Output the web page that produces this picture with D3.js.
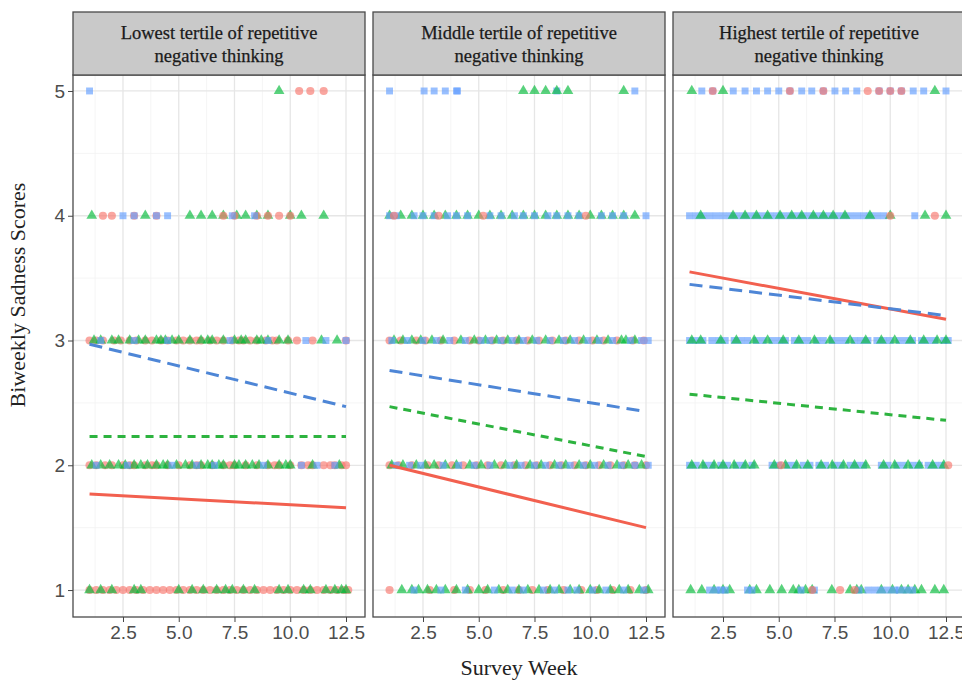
<!DOCTYPE html>
<html>
<head>
<meta charset="utf-8">
<script src="https://cdn.jsdelivr.net/npm/d3@7"></script>
<style>
  body { margin: 0; background: #fff; }
  svg { display: block; }
</style>
</head>
<body>
<svg width="962" height="681"></svg>
<script>
const width = 962;
const height = 681;

// facet titles
const panelTitles = [
  ["Lowest tertile of repetitive", "negative thinking"],
  ["Middle tertile of repetitive", "negative thinking"],
  ["Highest tertile of repetitive", "negative thinking"]
];

const xTicks = [2.5, 5, 7.5, 10, 12.5];
const xMinor = [1.25, 3.75, 6.25, 8.75, 11.25];
const yTicks = [1, 2, 3, 4, 5];
const yMinor = [1.5, 2.5, 3.5, 4.5];

// fitted lines: [score at week 1, score at week 12.5] for class 1, 2, 3
const trendWeeks = [1, 12.5];
const trendLowest = [[1.77, 1.66], [2.23, 2.23], [2.97, 2.47]];
const trendMiddle = [[2.0, 1.5], [2.47, 2.07], [2.76, 2.43]];
const trendHighest = [[3.55, 3.17], [2.57, 2.36], [3.45, 3.2]];

// raw points: [score, class (0,1,2), weeks]
const lowestPoints = [
  [5, 2, [1.0]],
  [5, 1, [9.5]],
  [5, 0, [10.4, 10.9, 11.5]],
  [4, 1, [1.1, 3.5, 5.5, 6.0, 6.5, 7.0, 7.6, 8.0, 8.5, 9.0, 10.0, 10.5, 11.5]],
  [4, 0, [1.6, 2.0, 3.0, 4.0, 7.0, 7.5, 8.5, 9.0, 9.5, 10.0]],
  [4, 2, [2.5, 3.0, 4.0, 4.5, 7.4, 8.4]],
  [3, 0, [1.0, 1.3, 1.6, 2.1, 2.4, 2.8, 3.1, 3.5, 3.8, 4.2, 4.5, 4.9, 5.2, 5.5, 5.8, 6.0, 6.4, 6.7, 7.0, 7.4, 7.7, 7.9, 8.2, 8.5, 8.9, 9.2, 9.4, 9.9, 10.3, 11.0, 12.5]],
  [3, 1, [1.2, 1.5, 2.0, 2.3, 2.8, 3.2, 3.5, 4.0, 4.2, 4.4, 4.7, 5.0, 5.5, 6.0, 6.3, 6.5, 7.0, 7.5, 7.8, 8.0, 8.5, 8.7, 9.0, 9.5, 9.9, 11.4, 12.1]],
  [3, 2, [1.5, 3.0, 4.5, 7.3, 9.0, 10.7, 11.6, 12.5]],
  [2, 0, [1.0, 1.3, 1.7, 2.0, 2.5, 2.8, 3.0, 3.5, 3.8, 4.0, 4.5, 5.0, 5.5, 5.8, 6.0, 6.5, 7.0, 7.3, 7.5, 8.0, 8.5, 9.0, 9.3, 9.5, 10.0, 10.5, 10.8, 11.0, 11.5, 11.8, 12.0, 12.3, 12.5]],
  [2, 1, [1.1, 1.5, 1.9, 2.3, 2.6, 3.0, 3.3, 3.6, 4.0, 4.3, 4.5, 4.9, 5.3, 5.6, 6.0, 6.3, 6.5, 6.8, 7.0, 7.5, 7.7, 8.0, 8.3, 8.6, 9.0, 9.5, 9.8, 10.0, 11.0, 12.2]],
  [2, 2, [1.3, 2.7, 4.7, 5.8, 6.6, 8.8, 10.5, 11.2, 12.0]],
  [1, 0, [1.0, 1.3, 1.6, 1.9, 2.2, 2.5, 2.8, 3.1, 3.4, 3.7, 4.0, 4.3, 4.6, 4.9, 5.2, 5.5, 5.8, 6.1, 6.4, 6.7, 7.0, 7.3, 7.6, 7.9, 8.2, 8.5, 8.8, 9.1, 9.4, 9.7, 10.0, 10.3, 10.6, 10.9, 11.2, 11.5, 11.8, 12.1, 12.4, 12.6]],
  [1, 1, [1.0, 1.5, 2.0, 3.0, 3.3, 5.0, 5.6, 6.1, 6.7, 7.1, 7.4, 7.9, 8.4, 9.5, 9.9, 10.6, 10.9, 11.6, 12.0, 12.3, 12.5]]
];

const middlePoints = [
  [5, 2, [1.0, 2.55, 3.0, 3.5, 4.0, 4.05, 8.5, 12.0]],
  [5, 1, [7.0, 7.5, 8.0, 8.5, 9.0, 11.5]],
  [4, 1, [1.0, 1.5, 2.0, 2.5, 3.0, 3.5, 4.0, 4.5, 5.0, 5.5, 6.0, 6.5, 7.0, 7.5, 8.0, 8.5, 9.0, 9.5, 10.0, 10.5, 11.0, 11.5, 12.0]],
  [4, 2, [1.0, 1.3, 2.1, 2.5, 3.0, 3.6, 4.0, 4.5, 5.5, 6.0, 6.6, 7.0, 7.5, 8.1, 8.5, 9.0, 9.5, 10.5, 11.0, 11.5, 12.5]],
  [4, 0, [1.2, 3.2, 5.2, 9.8]],
  [3, 0, [1.0, 1.5, 2.2, 2.6, 3.3, 3.9, 4.6, 5.0, 5.6, 6.1, 6.7, 7.2, 7.7, 8.3, 8.9, 9.5, 10.1, 10.6, 11.2, 11.9, 12.4]],
  [3, 1, [1.2, 1.6, 2.0, 2.4, 2.9, 3.4, 4.2, 4.8, 5.3, 5.8, 6.3, 6.8, 7.4, 8.0, 8.6, 9.1, 9.7, 10.3, 10.8, 11.4, 11.6, 12.0]],
  [3, 2, [1.1, 1.8, 2.5, 3.1, 3.7, 4.4, 5.1, 5.5, 6.0, 6.5, 7.0, 7.6, 8.2, 8.8, 9.3, 9.9, 10.4, 11.0, 11.8, 12.3, 12.6]],
  [2, 0, [1.0, 1.4, 2.0, 2.7, 3.2, 3.8, 4.3, 4.9, 5.4, 6.0, 6.6, 7.1, 7.6, 8.2, 8.7, 9.3, 9.8, 10.4, 10.9, 11.5, 12.0, 12.5]],
  [2, 1, [1.1, 1.6, 2.2, 2.6, 3.0, 3.5, 4.0, 4.6, 5.1, 5.7, 6.2, 6.7, 7.3, 7.8, 8.4, 8.9, 9.5, 10.0, 10.6, 11.2, 11.7, 12.3]],
  [2, 2, [1.3, 1.9, 2.4, 3.4, 4.1, 4.8, 5.5, 6.4, 6.9, 7.5, 8.0, 8.6, 9.1, 9.7, 10.2, 10.8, 11.4, 12.0, 12.6]],
  [1, 0, [1.0, 2.8, 3.9, 4.6, 5.3, 6.1, 6.8, 7.4, 8.1, 8.8, 9.6, 10.3, 11.0, 11.8, 12.5]],
  [1, 1, [1.55, 2.0, 2.3, 2.7, 3.1, 3.5, 4.0, 4.5, 5.0, 5.4, 5.9, 6.3, 6.8, 7.2, 7.7, 8.2, 8.6, 9.1, 9.5, 10.0, 10.4, 10.9, 11.3, 11.7, 12.2, 12.6]],
  [1, 2, [2.1, 3.3, 4.4, 5.7, 6.5, 7.0, 7.9, 8.4, 9.0, 9.4, 10.1, 10.7, 11.5, 12.4]]
];

const highestPoints = [
  [5, 1, [1.1, 2.5, 12.0]],
  [5, 2, [1.55, 2.04, 2.96, 3.49, 4.0, 4.5, 5.0, 5.5, 6.03, 6.48, 7.0, 7.52, 8.0, 8.5, 9.5, 10.0, 10.5, 11.03, 11.5, 12.5]],
  [5, 0, [2.04, 5.5, 7.0, 8.99, 9.5, 10.0, 10.5]],
  [4, 2, [1.0, 1.3, 1.6, 1.9, 2.2, 2.5, 2.8, 3.1, 3.4, 3.7, 4.0, 4.3, 4.6, 4.9, 5.2, 5.5, 5.8, 6.1, 6.4, 6.7, 7.0, 7.3, 7.6, 7.9, 8.2, 8.5, 8.8, 9.1, 9.4, 9.7, 11.1]],
  [4, 1, [1.5, 2.95, 3.49, 4.0, 4.5, 5.06, 5.58, 6.03, 6.55, 7.0, 7.44, 7.97, 9.09, 10.0, 11.56, 12.5]],
  [4, 0, [10.0, 12.0]],
  [3, 2, [1.0, 1.3, 1.6, 2.0, 2.3, 2.6, 3.0, 3.3, 3.6, 4.0, 4.3, 4.7, 5.0, 5.3, 5.7, 6.0, 6.3, 6.7, 7.0, 7.4, 7.7, 8.0, 8.4, 8.7, 9.0, 9.4, 9.7, 10.0, 10.4, 10.7, 11.0, 11.4, 11.7, 12.0, 12.4, 12.6]],
  [3, 1, [1.1, 1.5, 2.4, 3.1, 3.9, 4.5, 5.2, 5.9, 6.6, 7.3, 8.2, 8.9, 9.6, 10.2, 10.9, 11.5, 12.1, 12.5]],
  [2, 2, [1.0, 1.3, 1.7, 2.0, 2.4, 2.7, 3.1, 3.4, 3.8, 4.7, 5.0, 5.4, 5.7, 6.1, 6.4, 6.8, 7.1, 7.5, 7.8, 8.2, 8.5, 8.8, 9.6, 9.9, 10.3, 10.6, 11.0, 11.3, 11.7, 12.0, 12.3]],
  [2, 1, [1.1, 1.6, 2.1, 2.5, 3.0, 3.5, 3.9, 4.8, 5.3, 5.8, 6.3, 6.9, 7.4, 7.9, 8.4, 8.9, 9.7, 10.2, 10.8, 11.3, 11.9, 12.4]],
  [2, 0, [5.1, 12.6]],
  [1, 1, [1.05, 1.55, 2.1, 2.5, 2.8, 3.7, 4.0, 4.6, 5.13, 5.65, 5.9, 6.2, 6.5, 7.38, 8.2, 8.5, 8.7, 9.6, 10.1, 10.5, 10.8, 11.1, 11.4, 12.0, 12.4]],
  [1, 2, [1.9, 2.2, 2.4, 2.6, 3.6, 3.8, 6.0, 6.6, 8.6, 9.0, 9.3, 9.6, 9.9, 10.2, 10.4, 10.7, 11.0]],
  [1, 0, [6.5, 7.75, 8.4]]
];

const panelTrends = [trendLowest, trendMiddle, trendHighest];
const panelPoints = [lowestPoints, middlePoints, highestPoints];

const classColors = ["#F8766D", "#00BA38", "#619CFF"];
const lineColors = ["#F2604F", "#2DB33F", "#4E86D6"];
const classShapes = [d3.symbolCircle, d3.symbolTriangle, d3.symbolSquare];
const classSizes = [52, 50, 48];
const classDash = [null, "8,6", "13,7"];

const panelW = 292;
const panelStep = 300;
const left0 = 73;
const stripTop = 12;
const plotTop = 75;
const plotBottom = 617;

const svg = d3.select("svg");
svg.append("rect").attr("width", width).attr("height", height).attr("fill", "#fff");

const x = d3.scaleLinear().domain([0.258, 13.352]).range([0, panelW]);
const y = d3.scaleLinear().domain([0.784, 5.128]).range([plotBottom, plotTop]);

const line = d3.line().x(d => x(d[0])).y(d => y(d[1]));

panelTitles.forEach((title, i) => {
  const g = svg.append("g").attr("transform", `translate(${left0 + panelStep * i},0)`);

  // grid
  g.selectAll(".xminor").data(xMinor).enter().append("line")
    .attr("x1", d => x(d)).attr("x2", d => x(d))
    .attr("y1", plotTop).attr("y2", plotBottom)
    .attr("stroke", "#f2f2f2").attr("stroke-width", 0.8);
  g.selectAll(".yminor").data(yMinor).enter().append("line")
    .attr("x1", 0).attr("x2", panelW)
    .attr("y1", d => y(d)).attr("y2", d => y(d))
    .attr("stroke", "#f2f2f2").attr("stroke-width", 0.8);
  g.selectAll(".xmajor").data(xTicks).enter().append("line")
    .attr("x1", d => x(d)).attr("x2", d => x(d))
    .attr("y1", plotTop).attr("y2", plotBottom)
    .attr("stroke", "#e6e6e6").attr("stroke-width", 1.3);
  g.selectAll(".ymajor").data(yTicks).enter().append("line")
    .attr("x1", 0).attr("x2", panelW)
    .attr("y1", d => y(d)).attr("y2", d => y(d))
    .attr("stroke", "#e6e6e6").attr("stroke-width", 1.3);

  // points
  panelPoints[i].forEach(([score, cls, weeks]) => {
    g.selectAll(null).data(weeks).enter().append("path")
      .attr("d", d3.symbol().type(classShapes[cls]).size(classSizes[cls]))
      .attr("transform", d => `translate(${x(d)},${y(score)})`)
      .attr("fill", classColors[cls])
      .attr("fill-opacity", 0.65);
  });

  // fitted lines
  panelTrends[i].forEach((ends, cls) => {
    g.append("path")
      .attr("d", line([[trendWeeks[0], ends[0]], [trendWeeks[1], ends[1]]]))
      .attr("fill", "none")
      .attr("stroke", lineColors[cls])
      .attr("stroke-width", 3)
      .attr("stroke-dasharray", classDash[cls]);
  });

  // panel border
  g.append("rect")
    .attr("x", 0).attr("y", plotTop)
    .attr("width", panelW).attr("height", plotBottom - plotTop)
    .attr("fill", "none").attr("stroke", "#4a4a4a").attr("stroke-width", 1.3);

  // strip
  g.append("rect")
    .attr("x", 0).attr("y", stripTop)
    .attr("width", panelW).attr("height", plotTop - stripTop)
    .attr("fill", "#c9c9c9").attr("stroke", "#4a4a4a").attr("stroke-width", 1.3);
  g.selectAll(".strip").data(title).enter().append("text")
    .attr("x", panelW / 2)
    .attr("y", (d, j) => 39 + j * 23)
    .attr("text-anchor", "middle")
    .attr("font-family", "'Liberation Serif', 'Times New Roman', serif")
    .attr("font-size", 18.5)
    .attr("fill", "#1a1a1a")
    .attr("stroke", "#1a1a1a")
    .attr("stroke-width", 0.25)
    .text(d => d);

  // x axis
  const xAxis = d3.axisBottom(x).tickValues(xTicks).tickFormat(d3.format(".1f")).tickSize(5).tickPadding(4);
  const ax = g.append("g").attr("transform", `translate(0,${plotBottom})`).call(xAxis);
  ax.select(".domain").remove();
  ax.selectAll(".tick line").attr("stroke", "#444");
  ax.selectAll(".tick text")
    .attr("font-family", "'Liberation Sans', Arial, sans-serif")
    .attr("font-size", 19)
    .attr("fill", "#4d4d4d");

  // y axis on first panel only
  if (i === 0) {
    const yAxis = d3.axisLeft(y).tickValues(yTicks).tickFormat(d3.format("d")).tickSize(5).tickPadding(3);
    const ay = g.append("g").call(yAxis);
    ay.select(".domain").remove();
    ay.selectAll(".tick line").attr("stroke", "#444");
    ay.selectAll(".tick text")
      .attr("font-family", "'Liberation Sans', Arial, sans-serif")
      .attr("font-size", 19)
      .attr("fill", "#4d4d4d");
  }
});

// axis titles
svg.append("text")
  .attr("x", 519).attr("y", 675)
  .attr("text-anchor", "middle")
  .attr("font-family", "'Liberation Serif', 'Times New Roman', serif")
  .attr("font-size", 22)
  .attr("fill", "#222")
  .text("Survey Week");

svg.append("text")
  .attr("transform", "translate(25,295) rotate(-90)")
  .attr("text-anchor", "middle")
  .attr("font-family", "'Liberation Serif', 'Times New Roman', serif")
  .attr("font-size", 22)
  .attr("fill", "#222")
  .text("Biweekly Sadness Scores");
</script>
</body>
</html>
